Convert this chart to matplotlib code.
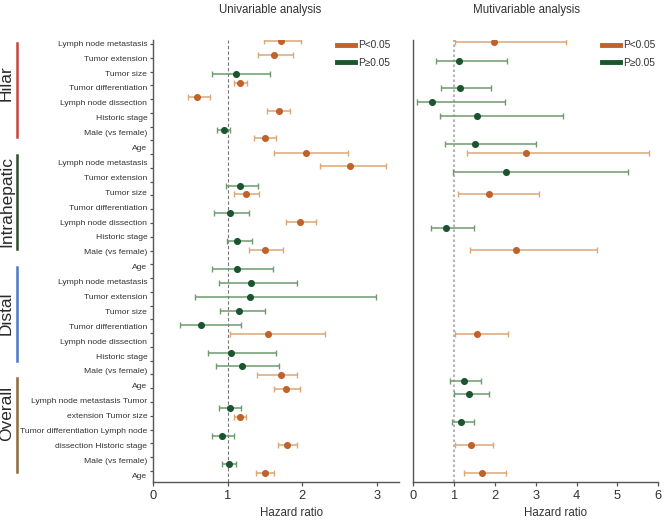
import matplotlib
matplotlib.use('Agg')
import matplotlib.pyplot as plt
import matplotlib.transforms as mtransforms
from matplotlib.lines import Line2D
import numpy as np

plt.rcParams['font.family'] = ['Liberation Sans', 'DejaVu Sans']

# ---------------- data ----------------
row_labels = [
    "Lymph node metastasis", "Tumor extension", "Tumor size", "Tumor differentiation",
    "Lymph node dissection", "Historic stage", "Male (vs female)", "Age",
    "Lymph node metastasis", "Tumor extension", "Tumor size", "Tumor differentiation",
    "Lymph node dissection", "Historic stage", "Male (vs female)", "Age",
    "Lymph node metastasis", "Tumor extension", "Tumor size", "Tumor differentiation",
    "Lymph node dissection", "Historic stage", "Male (vs female)", "Age",
    "Lymph node metastasis Tumor", "extension Tumor size",
    "Tumor differentiation Lymph node", "dissection Historic stage",
    "Male (vs female)", "Age",
]
groups = ["Hilar", "Intrahepatic", "Distal", "Overall"]
group_colors = ["#c9443f", "#2f4a2b", "#4a79c9", "#8a6b3c"]
group_start = [0.0, 7.52, 15.0, 22.45]     # in label units
group_end = [6.31, 13.83, 21.31, 28.76]
group_text = [2.66, 10.59, 18.1, 24.88]

# Univariable analysis
uni_row = [-0.20, 0.80, 2.18, 2.83, 3.85, 4.87, 6.22, 6.83, 7.92, 8.86,
           10.29, 10.89, 12.29, 12.93, 14.31, 14.96, 16.36, 17.36, 18.37, 19.37,
           20.39, 21.06, 22.42, 23.41, 24.04, 25.05, 26.46, 27.09, 28.47, 29.12,
           30.50, 31.15]
uni_hr = [1.72, 1.62, 1.11, 1.16, 0.59, 1.69, 0.95, 1.50, 2.05, 2.64,
          1.16, 1.24, 1.03, 1.97, 1.12, 1.50, 1.12, 1.31, 1.30, 1.15,
          0.64, 1.54, 1.04, 1.19, 1.71, 1.78, 1.03, 1.16, 0.92, 1.79,
          1.02, 1.50]
uni_lo = [1.49, 1.41, 0.79, 1.08, 0.47, 1.53, 0.86, 1.35, 1.62, 2.24,
          0.98, 1.08, 0.81, 1.78, 0.99, 1.28, 0.79, 0.88, 0.56, 0.90,
          0.36, 1.03, 0.73, 0.84, 1.39, 1.62, 0.88, 1.08, 0.79, 1.67,
          0.92, 1.38]
uni_hi = [1.98, 1.87, 1.57, 1.26, 0.76, 1.83, 1.03, 1.65, 2.61, 3.12,
          1.41, 1.42, 1.28, 2.18, 1.32, 1.74, 1.61, 1.93, 2.99, 1.50,
          1.18, 2.30, 1.65, 1.69, 1.93, 1.97, 1.18, 1.24, 1.08, 1.93,
          1.11, 1.62]
uni_sig = [1, 1, 0, 1, 1, 1, 0, 1, 1, 1,
           0, 1, 0, 1, 0, 1, 0, 0, 0, 0,
           0, 1, 0, 0, 1, 1, 0, 1, 0, 1,
           0, 1]

# Multivariable analysis
mul_row = [-0.17, 1.21, 3.22, 4.21, 5.23, 7.26, 7.89, 9.30, 10.92, 13.34,
           14.96, 21.04, 24.45, 25.44, 27.43, 29.10, 31.13]
mul_hr = [1.98, 1.12, 1.14, 0.47, 1.57, 1.52, 2.75, 2.27, 1.85, 0.80,
          2.51, 1.55, 1.23, 1.36, 1.17, 1.41, 1.68]
mul_lo = [1.03, 0.55, 0.69, 0.10, 0.66, 0.77, 1.31, 0.98, 1.10, 0.43,
          1.40, 1.01, 0.90, 0.99, 0.94, 1.01, 1.24]
mul_hi = [3.73, 2.29, 1.90, 2.25, 3.67, 3.01, 5.77, 5.26, 3.09, 1.49,
          4.50, 2.31, 1.67, 1.85, 1.49, 1.94, 2.26]
mul_sig = [1, 0, 0, 0, 0, 0, 1, 0, 1, 0,
           1, 1, 0, 0, 0, 1, 1]

n_ticks = 32
label_first = -0.05
label_step = 1.0818

ORANGE = "#c0622a"
ORANGE_L = "#dba777"
GREEN = "#1b5530"
GREEN_L = "#6e9a6e"
CAP = "#6a6a6a"
SPINE = "#555555"
TXT = "#333333"

# ---------------- figure ----------------
W, H = 665, 521
fig = plt.figure(figsize=(W / 100, H / 100), dpi=100)
axL = fig.add_axes([153.3 / W, 39.3 / H, 245.7 / W, 441.7 / H])
axR = fig.add_axes([413.3 / W, 39.3 / H, 245.0 / W, 441.7 / H])


def draw(ax, hr, lo, hi, sig, row):
    hr, lo, hi, sig, row = map(np.asarray, (hr, lo, hi, sig, row))
    for s, col, ecol in [(1, ORANGE, ORANGE_L), (0, GREEN, GREEN_L)]:
        m = sig == s
        eb = ax.errorbar(hr[m], row[m], xerr=[hr[m] - lo[m], hi[m] - hr[m]],
                         fmt='none', ecolor=ecol, elinewidth=1.1,
                         capsize=2, capthick=1.0, zorder=2)
        for c in eb[1]:
            c.set_color(CAP)
        ax.scatter(hr[m], row[m], s=26, color=col, zorder=3, linewidths=0)


for ax in (axL, axR):
    ax.set_ylim(31.79, -0.29)
    for sp in ("top", "right"):
        ax.spines[sp].set_visible(False)
    for sp in ("left", "bottom"):
        ax.spines[sp].set_color(SPINE)
        ax.spines[sp].set_linewidth(1.0)
    ax.tick_params(axis='x', colors=SPINE, labelcolor=TXT, labelsize=9.3,
                   length=3, width=0.9, pad=3)

draw(axL, uni_hr, uni_lo, uni_hi, uni_sig, uni_row)
draw(axR, mul_hr, mul_lo, mul_hi, mul_sig, mul_row)

# left axis
axL.set_xlim(0, 3.3)
axL.set_xticks([0, 1, 2, 3])
axL.axvline(1, color="#777777", lw=0.8, ls=(0, (3, 2)), zorder=1)
label_pos = [label_first + i * label_step for i in range(len(row_labels))]
axL.set_yticks(label_pos)
axL.set_yticklabels(row_labels, fontsize=6.1, color=TXT)
axL.tick_params(axis='y', which='major', length=0, pad=4.3)
axL.set_yticks(np.arange(n_ticks), minor=True)
axL.tick_params(axis='y', which='minor', length=2.5, width=0.9, color=SPINE)

# right axis
axR.set_xlim(0, 6)
axR.set_xticks(range(7))
axR.set_yticks([])
axR.axvline(1, color="#b5b5b5", lw=1.5, ls=(0, (1.2, 1.2)), zorder=1)

# group bars and names
trans = mtransforms.blended_transform_factory(fig.transFigure, axL.transData)
for name, col, a, b, t in zip(groups, group_colors, group_start, group_end, group_text):
    ya = label_first + a * label_step
    yb = label_first + b * label_step
    yt = label_first + t * label_step
    axL.add_line(Line2D([17.3 / W, 17.3 / W], [ya, yb], transform=trans,
                        color=col, lw=1.8, clip_on=False))
    axL.text(6.5 / W, yt, name, transform=trans, rotation=90,
             ha='center', va='center', fontsize=12.5, color="#2a2a2a")

# titles and axis labels
fig.text(270 / W, 1 - 10.5 / H, "Univariable analysis", ha='center', va='center',
         fontsize=8.3, color=TXT)
fig.text(526.7 / W, 1 - 10.5 / H, "Mutivariable analysis", ha='center', va='center',
         fontsize=8.3, color=TXT)
fig.text(291 / W, 1 - 513 / H, "Hazard ratio", ha='center', va='center',
         fontsize=8.3, color=TXT)
fig.text(555.7 / W, 1 - 513 / H, "Hazard ratio", ha='center', va='center',
         fontsize=8.3, color=TXT)

# legends
handles = [Line2D([], [], color=ORANGE, lw=3.5, label="P<0.05"),
           Line2D([], [], color=GREEN, lw=3.5, label="P\u22650.05")]
for xpix in (336.7, 601.7):
    fig.legend(handles=handles, loc='upper left',
               bbox_to_anchor=(xpix / W, 1 - 40.5 / H), frameon=False,
               fontsize=7.3, handlelength=1.8, handletextpad=0.3,
               labelspacing=0.7, borderpad=0, borderaxespad=0,
               labelcolor=TXT)

fig.savefig("out.png", dpi=100)
